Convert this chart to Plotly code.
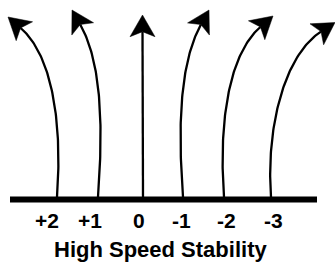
import numpy as np
import plotly.graph_objects as go

# ---- data ----
stab_labels = ["+2", "+1", "0", "-1", "-2", "-3"]
stab_values = [2, 1, 0, -1, -2, -3]
base_x = [57, 98, 143, 183, 224, 271]          # where each path leaves the ground line
tip_x = [8, 72, 142.5, 209, 273, 335]          # arrow tips
tip_y = [17, 10, 15, 10, 16, 22.5]
head_deg = [-49, -29.5, 0, 29, 49, 57]         # heading at tip, degrees from vertical
label_x = [46.7, 90, 139, 181, 226.7, 273]
title_text = "High Speed Stability"

W, H = 335, 262
GROUND_Y = 199.5
START_Y = 197
HEAD_LEN, HEAD_HALF, NOTCH = 21.7, 12.5, 5.0
FONT = "Liberation Sans, Arial, Helvetica, sans-serif"

fig = go.Figure()

# ground line
fig.add_trace(go.Scatter(x=[10, 317], y=[GROUND_Y, GROUND_Y], mode="lines",
                         line=dict(color="black", width=6), hoverinfo="skip"))

t = np.linspace(0, 1, 80)
for bx, tx, ty, hd in zip(base_x, tip_x, tip_y, head_deg):
    a = np.radians(hd)
    u = np.array([np.sin(a), -np.cos(a)])      # unit direction of travel at tip
    n = np.array([u[1], -u[0]])
    tip = np.array([tx, ty])
    notch = tip - (HEAD_LEN - NOTCH) * u
    s = np.sign(hd)
    p0 = np.array([bx, START_Y])
    p1 = np.array([bx - 5 * s, 130])
    p2 = notch - 45 * u
    p3 = notch
    if hd == 0:
        p1 = np.array([bx, 130]); p2 = np.array([bx, 60])
    pts = ((1 - t) ** 3)[:, None] * p0 + (3 * (1 - t) ** 2 * t)[:, None] * p1 \
        + (3 * (1 - t) * t ** 2)[:, None] * p2 + (t ** 3)[:, None] * p3
    fig.add_trace(go.Scatter(x=pts[:, 0], y=pts[:, 1], mode="lines",
                             line=dict(color="black", width=2.3), hoverinfo="skip"))
    back = tip - HEAD_LEN * u
    c1 = back + HEAD_HALF * n
    c2 = back - HEAD_HALF * n
    poly = np.array([tip, c1, notch, c2, tip])
    fig.add_trace(go.Scatter(x=poly[:, 0], y=poly[:, 1], mode="lines", fill="toself",
                             fillcolor="black", line=dict(color="black", width=0.5),
                             hoverinfo="skip"))

for lx, lab in zip(label_x, stab_labels):
    fig.add_annotation(x=lx, y=220, text=f"<b>{lab}</b>", showarrow=False,
                       xanchor="center", yanchor="middle",
                       font=dict(family=FONT, size=21, color="black"))

fig.add_annotation(x=160.5, y=249, text=f"<b>{title_text}</b>", showarrow=False,
                   xanchor="center", yanchor="middle",
                   font=dict(family=FONT, size=22, color="black"))

fig.update_layout(width=W, height=H, margin=dict(l=0, r=0, t=0, b=0),
                  paper_bgcolor="white", plot_bgcolor="white", showlegend=False,
                  xaxis=dict(range=[0, W], visible=False, fixedrange=True),
                  yaxis=dict(range=[H, 0], visible=False, fixedrange=True))

fig.write_html("out.html", config={"displayModeBar": False},
               post_script="document.body.style.margin='0';document.body.style.overflow='hidden';")
